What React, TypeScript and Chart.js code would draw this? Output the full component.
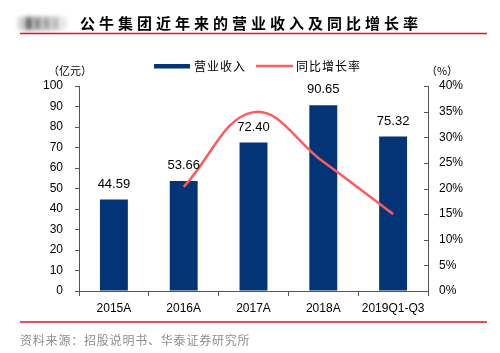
import React, { useEffect, useRef } from "react";
import { Chart, registerables } from "chart.js";

Chart.register(...registerables);

const categories = ["2015A", "2016A", "2017A", "2018A", "2019Q1-Q3"];
const revenue = [44.59, 53.66, 72.4, 90.65, 75.32];
const growth: (number | null)[] = [null, 20.3, 34.9, 25.2, 15.0];
const revenueLabels = ["44.59", "53.66", "72.40", "90.65", "75.32"];

const TITLE = "公牛集团近年来的营业收入及同比增长率";
const SOURCE = "资料来源：招股说明书、华泰证券研究所";
const LEG_BAR = "营业收入";
const LEG_LINE = "同比增长率";
const LEFT_UNIT = "（亿元）";
const RIGHT_UNIT = "（%）";

const BAR_COLOR = "#033576";
const LINE_COLOR = "#FF5B5E";
const RED = "#E3161E";
const CJK = '"Noto Sans CJK SC", sans-serif';
const LATIN = '"Liberation Sans", Arial, sans-serif';

const decorations = {
  id: "decorations",
  afterDatasetsDraw(chart: any) {
    const ctx = chart.ctx;
    const meta = chart.getDatasetMeta(1);
    ctx.save();
    ctx.font = `13px ${LATIN}`;
    ctx.fillStyle = "#000";
    ctx.textAlign = "center";
    ctx.textBaseline = "bottom";
    meta.data.forEach((bar: any, i: number) => {
      ctx.fillText(revenueLabels[i], bar.x, bar.y - 9);
    });
    ctx.restore();
  },
  afterDraw(chart: any) {
    const ctx = chart.ctx;
    ctx.save();
    // inward ticks on the right axis
    const y1 = chart.scales.y1;
    ctx.strokeStyle = "#555";
    ctx.lineWidth = 1;
    ctx.beginPath();
    y1.ticks.forEach((t: any) => {
      const y = Math.round(y1.getPixelForValue(t.value)) + 0.5;
      ctx.moveTo(y1.left - 4, y);
      ctx.lineTo(y1.left, y);
    });
    ctx.stroke();

    // blurred logo
    ctx.filter = "blur(2px)";
    const blocks: [number, number, string][] = [
      [18, 7, "#d0d0d0"],
      [25, 8, "#6e6e6e"],
      [33, 9, "#959595"],
      [42, 9, "#a8a8a8"],
      [51, 9, "#bcbcbc"],
      [60, 6, "#e4e4e4"],
    ];
    blocks.forEach(([x, w, c]) => {
      ctx.fillStyle = c;
      ctx.fillRect(x, 17, w, 13);
    });
    ctx.filter = "none";

    // title
    ctx.fillStyle = "#000";
    ctx.font = `bold 15px ${CJK}`;
    ctx.textAlign = "left";
    ctx.textBaseline = "middle";
    (ctx as any).letterSpacing = "4px";
    ctx.fillText(TITLE, 80, 23.5);

    // red rules
    ctx.strokeStyle = RED;
    ctx.lineWidth = 1.5;
    ctx.beginPath();
    ctx.moveTo(20, 33.5);
    ctx.lineTo(487, 33.5);
    ctx.moveTo(20, 322);
    ctx.lineTo(487, 322);
    ctx.stroke();

    // legend
    ctx.fillStyle = BAR_COLOR;
    ctx.fillRect(154, 64, 36, 4.5);
    ctx.strokeStyle = LINE_COLOR;
    ctx.lineWidth = 2.5;
    ctx.beginPath();
    ctx.moveTo(256, 66);
    ctx.lineTo(293, 66);
    ctx.stroke();
    ctx.fillStyle = "#000";
    ctx.font = `12px ${CJK}`;
    (ctx as any).letterSpacing = "1px";
    ctx.fillText(LEG_BAR, 194, 66);
    ctx.fillText(LEG_LINE, 296, 66);

    // units
    (ctx as any).letterSpacing = "0px";
    ctx.font = `11px ${CJK}`;
    ctx.textAlign = "center";
    ctx.fillText(LEFT_UNIT, 70, 71);
    ctx.fillText(RIGHT_UNIT, 442, 71);

    // source
    ctx.textAlign = "left";
    ctx.fillStyle = "#8f8f8f";
    ctx.font = `12px ${CJK}`;
    (ctx as any).letterSpacing = "0.8px";
    ctx.fillText(SOURCE, 20, 340);
    ctx.restore();
  },
};

export default function App() {
  const ref = useRef<HTMLCanvasElement | null>(null);
  useEffect(() => {
    document.body.style.margin = "0";
    const canvas = ref.current!;
    const tickFont = { family: LATIN, size: 12 };
    const chart = new Chart(canvas, {
      type: "bar",
      data: {
        labels: categories,
        datasets: [
          {
            type: "line",
            label: LEG_LINE,
            data: growth,
            yAxisID: "y1",
            borderColor: LINE_COLOR,
            backgroundColor: LINE_COLOR,
            borderWidth: 2.5,
            pointRadius: 0,
            tension: 0.4,
            order: 0,
          } as any,
          {
            type: "bar",
            label: LEG_BAR,
            data: revenue,
            yAxisID: "y",
            backgroundColor: BAR_COLOR,
            categoryPercentage: 1,
            barPercentage: 0.4,
            order: 1,
          },
        ],
      },
      options: {
        responsive: false,
        animation: false,
        devicePixelRatio: 1,
        layout: { padding: { top: 86, left: 0, right: 0, bottom: 0 } },
        plugins: { legend: { display: false }, tooltip: { enabled: false } },
        scales: {
          x: {
            grid: {
              display: true,
              drawOnChartArea: false,
              drawTicks: true,
              tickLength: 5,
              color: "#555",
              offset: true,
            },
            border: { display: true, color: "#555", width: 1 },
            ticks: { font: tickFont, color: "#000", padding: 5, maxRotation: 0 },
            afterFit: (s: any) => {
              s.height = 62;
            },
          },
          y: {
            position: "left",
            min: 0,
            max: 100,
            ticks: { stepSize: 10, font: tickFont, color: "#000", padding: 12 },
            grid: { drawOnChartArea: false, tickLength: 4, color: "#555" },
            border: { display: true, color: "#555", width: 1 },
            afterFit: (s: any) => {
              s.width = 79;
            },
          },
          y1: {
            position: "right",
            min: 0,
            max: 40,
            ticks: {
              stepSize: 5,
              font: tickFont,
              color: "#000",
              padding: 11,
              callback: (v: any) => v + "%",
            },
            grid: { drawOnChartArea: false, drawTicks: false, tickLength: 0, color: "#555" },
            border: { display: true, color: "#555", width: 1 },
            afterFit: (s: any) => {
              s.width = 72;
            },
          },
        },
      },
      plugins: [decorations],
    });
    return () => chart.destroy();
  }, []);
  return (
    <div style={{ position: "absolute", left: 0, top: 0, width: 500, height: 353, background: "#fff" }}>
      <canvas ref={ref} width={500} height={353} />
    </div>
  );
}
